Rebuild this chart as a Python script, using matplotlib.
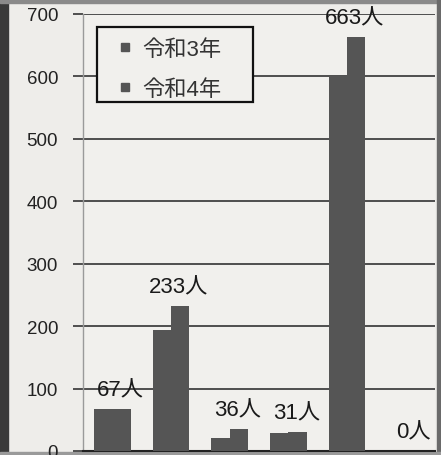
import matplotlib
matplotlib.use("Agg")
import matplotlib.pyplot as plt
from matplotlib.lines import Line2D
from matplotlib.patches import Rectangle
import numpy as np

plt.rcParams['font.family'] = ['Liberation Sans', 'Noto Sans CJK JP', 'DejaVu Sans']

categories = ['A', 'B', 'C', 'D', 'E', 'F']
series_names = ['令和3年', '令和4年']
r3 = [67, 194, 21, 29, 600, 0]
r4 = [67, 233, 36, 31, 663, 0]
labels = ['67人', '233人', '36人', '31人', '663人', '0人']
yticks = [0, 100, 200, 300, 400, 500, 600, 700]

W, H = 441, 456
fig = plt.figure(figsize=(W / 100, H / 100), dpi=100)
fig.patch.set_facecolor('#eeedea')

# scan borders
fig.add_artist(Rectangle((0, 0), 8 / W, 1, transform=fig.transFigure, color='#3a3a3a', zorder=0))
fig.add_artist(Rectangle((0, 1 - 4 / H), 1, 4 / H, transform=fig.transFigure, color='#8a8a8a', zorder=0))
fig.add_artist(Rectangle((1 - 4 / W, 0), 4 / W, 1, transform=fig.transFigure, color='#6a6a6a', zorder=0))
fig.add_artist(Rectangle((0, 0), 1, 3 / H, transform=fig.transFigure, color='#9a9a9a', zorder=0))

left, right, top, bottom = 83, 435, 15, 452
ax = fig.add_axes([left / W, (H - bottom) / H, (right - left) / W, (bottom - top) / H])
ax.set_facecolor('#f1f0ed')

x = np.arange(len(categories))
bw = 0.315
c = '#555555'
ax.bar(x - bw / 2, r3, bw, color=c, zorder=3)
ax.bar(x + bw / 2, r4, bw, color=c, zorder=3)

for xi, v, lab in zip(x, r4, labels):
    ax.annotate(lab, (xi + bw / 2, v), xytext=(-1, 6), textcoords='offset points',
                ha='center', va='bottom', fontsize=16, color='#1a1a1a')

ax.set_xlim(-0.5, len(categories) - 0.5)
ax.set_ylim(0, 700)
ax.set_yticks(yticks)
ax.set_xticks([])
ax.grid(axis='y', color='#4e4e4e', linewidth=1.4, zorder=1)
ax.tick_params(axis='y', length=7, width=1.4, color='#4e4e4e', pad=11, labelsize=13.5, labelcolor='#222222')
for s in ['top', 'right']:
    ax.spines[s].set_visible(False)
ax.spines['left'].set_color('#9a9a9a')
ax.spines['left'].set_linewidth(1.0)
ax.spines['bottom'].set_color('#222222')
ax.spines['bottom'].set_linewidth(1.5)

# legend frame drawn as a box
fx0, fy0, fx1, fy1 = 97, 28, 253, 103
frame = Rectangle((fx0 / W, 1 - fy1 / H), (fx1 - fx0) / W, (fy1 - fy0) / H,
                  transform=fig.transFigure, facecolor='#f1f0ed', edgecolor='#111111',
                  linewidth=1.6, zorder=4)
ax.add_artist(frame)
frame.set_transform(fig.transFigure)

handles = [Line2D([], [], marker='s', linestyle='none', markersize=5.5, color=c) for _ in series_names]
leg = ax.legend(handles, series_names, loc='upper left',
                bbox_to_anchor=((116 - left) / (right - left), (bottom - 40) / (bottom - top)),
                fontsize=16, frameon=False, handlelength=0.8, handletextpad=0.4,
                labelspacing=0.85, borderpad=0, borderaxespad=0)
for t in leg.get_texts():
    t.set_color('#333333')
leg.set_zorder(5)

fig.savefig('out.png', dpi=100)
